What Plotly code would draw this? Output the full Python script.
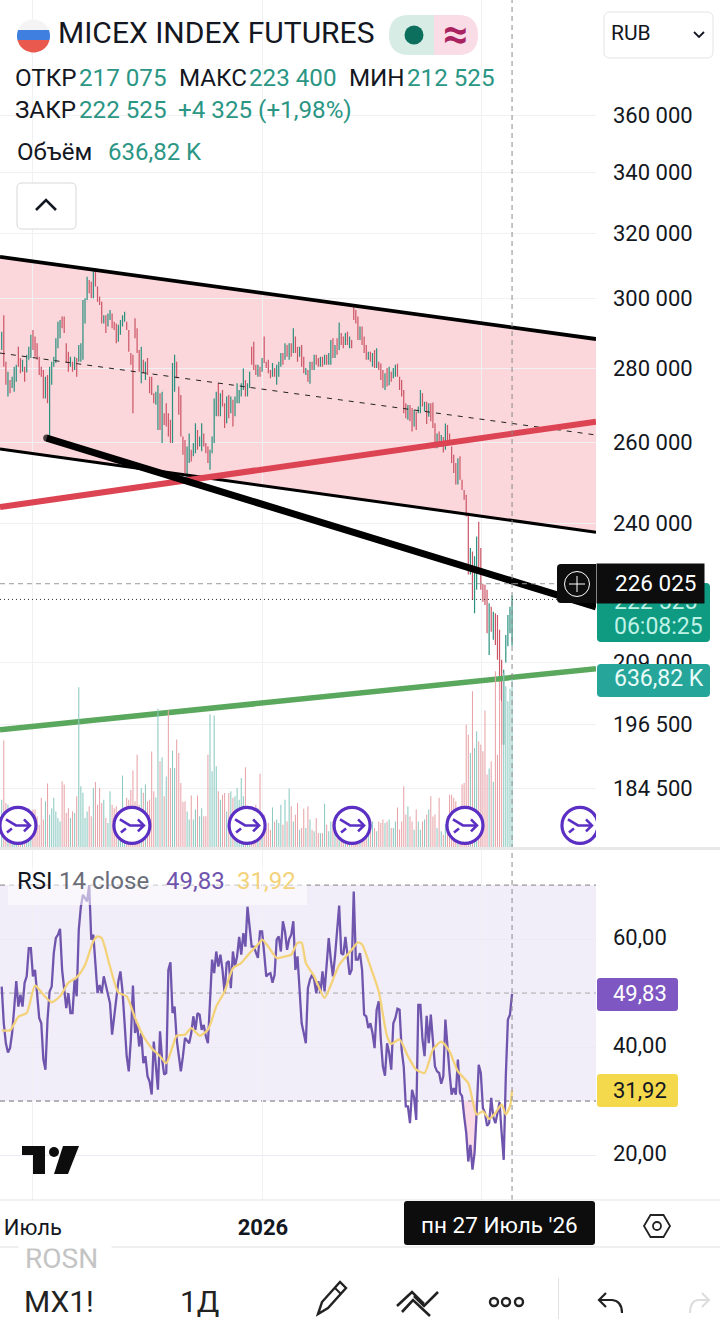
import math
import plotly.graph_objects as go

W, H = 720, 1319

# ---------- price data, thousands of roubles per bar ----------
high_k = [
290.3,295.1,281.8,279.0,276.7,277.6,280.4,280.9,286.0,282.8,
282.3,280.4,283.7,286.0,289.4,290.8,288.9,287.0,283.2,280.4,
279.5,277.6,278.1,280.4,281.8,283.2,288.4,293.2,293.7,294.7,
294.7,287.0,284.6,283.2,281.8,283.2,282.8,286.5,287.0,299.6,
300.1,306.6,305.6,305.1,309.1,309.1,303.6,300.6,299.1,295.1,
295.1,295.6,296.6,295.6,293.2,292.7,292.3,293.7,295.1,296.1,
293.2,290.8,284.2,283.7,294.2,291.3,285.1,286.0,282.3,281.8,
282.8,277.6,277.6,273.1,273.5,275.3,273.1,273.5,267.7,270.4,
267.7,266.0,281.4,283.7,281.8,274.9,272.6,261.6,260.7,259.0,
262.4,258.2,259.9,265.1,263.3,261.6,265.1,262.4,259.9,259.0,
258.2,261.6,271.7,273.5,275.8,273.1,274.0,270.4,272.2,272.6,
272.2,271.3,272.2,275.8,274.0,275.8,279.9,276.7,275.8,279.0,
286.0,287.4,280.9,280.9,280.4,282.8,288.9,281.8,282.3,279.5,
281.4,280.0,280.9,281.8,284.2,284.2,287.0,286.5,287.0,287.0,
291.3,288.9,286.0,286.0,286.5,283.2,280.0,279.5,281.8,281.8,
283.7,283.7,282.8,283.2,283.2,283.7,283.7,284.2,287.9,288.4,
286.5,288.4,293.0,289.9,288.9,289.9,290.3,288.9,287.9,298.1,
296.6,294.7,291.8,291.8,288.9,286.5,284.6,284.6,284.2,285.1,
285.6,281.8,281.3,279.5,278.6,280.0,280.4,279.0,280.0,280.9,
281.2,277.6,276.7,274.0,270.4,269.9,269.9,269.1,268.6,268.2,
269.5,274.0,273.1,270.8,270.8,270.4,270.4,270.6,265.1,262.4,
262.9,262.0,261.5,265.0,264.6,262.4,259.0,256.9,254.8,256.0,
256.5,250.6,248.1,246.9,242.5,234.2,233.4,232.3,236.9,240.4,
234.2,226.0,225.8,224.7,221.7,220.9,219.8,219.5,219.1,215.9,
209.6,207.5,214.8,219.1,220.9,223.4,
]
low_k = [
285.1,280.4,275.4,272.2,273.1,274.5,273.5,276.2,280.4,278.6,
279.0,276.2,278.8,282.3,282.8,285.1,283.2,282.3,278.1,277.6,
271.7,271.7,270.4,261.6,275.4,280.4,281.4,285.6,288.4,291.3,
289.9,281.4,279.0,280.4,279.0,279.5,277.6,281.8,281.8,282.3,
292.7,299.6,301.6,300.1,300.1,303.6,299.1,298.1,292.7,292.7,
289.9,291.8,293.7,291.3,290.8,287.0,287.4,289.4,291.8,293.2,
290.8,284.6,280.9,267.7,288.4,284.2,279.0,275.8,278.6,276.7,
278.1,273.1,272.6,270.4,270.0,263.3,263.3,259.9,264.6,264.2,
261.6,259.9,259.9,273.5,277.2,267.3,261.6,256.9,252.3,251.0,
254.8,255.2,256.5,257.3,258.2,259.0,257.8,259.0,257.3,254.8,
253.1,257.3,259.9,266.9,266.9,266.9,269.5,263.8,265.1,266.4,
267.7,264.2,266.9,270.4,270.4,272.2,274.0,272.2,272.2,274.5,
280.9,279.5,278.1,277.6,277.6,279.0,281.4,280.0,278.6,277.2,
277.6,277.6,275.4,277.6,280.4,280.9,282.3,283.2,282.3,283.2,
284.2,284.2,281.8,283.2,280.4,278.6,278.1,276.2,275.7,279.5,
279.5,280.9,280.4,280.4,280.4,280.9,280.9,280.9,280.9,282.8,
282.8,283.7,285.1,286.5,285.6,286.5,286.5,285.6,285.6,293.7,
292.7,287.9,287.9,286.5,284.2,282.3,282.3,281.8,280.4,280.0,
280.0,279.5,276.7,274.5,274.0,274.9,275.3,276.2,277.2,277.6,
277.6,274.0,272.2,267.7,266.4,266.0,265.6,262.9,264.2,263.3,
267.7,267.7,269.5,268.2,264.9,266.8,265.6,263.8,258.6,258.6,
259.0,259.0,257.5,258.2,259.9,259.4,254.8,252.3,249.4,249.4,
250.6,248.1,245.7,241.6,228.1,228.1,222.4,219.5,224.7,228.8,
224.7,222.0,221.3,215.2,210.6,215.5,213.8,212.7,209.6,201.4,
192.6,192.6,209.0,212.4,215.2,212.525,
]
close_k = [
289,281.5,276,278,275,277,279.5,281.5,281,279.5,
280,277,282,285,288,286,284,283,279,278,
272,274,271,279,280,282,287,292,293,291,
290,282,280,282,280,282,279,285,286,298,
299,305,304,301.5,308,306,300,299,293.5,294,
291,294,295,292,291.5,288,291,293,294.5,295.5,
292,285,281.5,268,289,285,280,284,279.5,281,
279,274,273,271,272,274,272,274,265,265,
262,260.5,281,282.5,279,268,262,257.5,253,258,
259,256,258,264,260,261,264,260,258,255.5,
257,261,271,272,268,272,271,265,271,268,
271,266,271,271,273,275,279,274,275,278,
281.5,280,279,280,278,282,282,281,279,278,
281,278,280,281,284,283,286.5,284,286,284,
290.5,288,283,285,282,279,279.5,277,281,280,
283,282,281,282.5,281.5,283,282,283.5,287,284,
286,285,292,288,287,289,287,288,287,294,
293,289,291,287,285,283,283.5,282,283,281,
285,280,277,275,278,276,280,277,279.5,280.5,
278,275,273,268.5,267,269,266,264,267,265,
269,273,270,270.5,266,270,267,265,259,261,
259.5,261,258,264,261,260,255.5,253,250,255,
251,248.5,246,242,229,233,224,231,236,232,
226,223,222,216,220,216,218,214,210.5,202.5,
194,206,214,217,218.2,222.525,
]
# bars whose open gapped away from the prior close
gap_open_k = {63: 283, 64: 293, 120: 285.5, 121: 286.5, 126: 288, 169: 297.5, 245: 217.075}

vol_k = [
182,405,170,163,125,138,113,125,88,75,
113,100,125,150,88,145,145,120,88,189,
107,176,243,125,150,189,138,113,100,252,
239,132,150,113,138,132,195,606,233,208,
113,138,157,120,226,249,163,226,170,182,
113,94,214,163,150,157,63,38,273,138,
189,182,219,292,176,352,163,226,208,239,
176,182,364,214,190,525,327,342,195,270,
519,302,367,302,409,358,245,174,176,138,
107,198,107,145,198,120,150,120,120,352,
503,289,500,308,214,182,201,207,138,207,
214,189,195,226,182,264,195,304,138,113,
113,100,163,150,280,113,125,75,94,69,
153,100,107,94,163,88,182,100,224,157,
100,125,170,69,75,148,75,157,107,69,
63,113,57,56,56,167,88,63,100,100,
100,100,100,100,100,88,75,63,100,94,
100,100,88,75,63,100,94,88,100,75,
63,100,94,107,94,100,107,75,75,100,
153,70,100,233,126,157,119,100,69,145,
100,69,100,107,126,145,195,119,126,75,
189,63,50,90,120,201,201,189,176,150,
130,239,245,465,427,358,591,377,440,402,
390,365,518,277,300,327,250,666,352,628,
553,660,610,553,600,636.82,
]

rsi = [
51.2,44.4,40.7,39,39.8,42.6,47.2,52.2,47.5,49.7,
47.5,51.9,53.1,58.3,58.3,53.1,54.3,50,45.4,44.4,
37.7,35.8,45.1,50.3,51.2,57.4,60.2,60.8,61.9,54.3,
50.6,47.2,50,46.3,46.3,52.5,49.4,61.7,66,68.2,
67.6,67,70,59.9,60.8,56.2,50,51.5,50,53.1,
51.5,50,48.1,42.3,45.7,48.8,52.2,54,50.3,44.4,
38.3,35.5,41.4,51.4,42.6,44.4,40.1,42.6,37,38.3,
34.6,33.6,31.2,41,36,32.1,42.9,37.7,34.9,35.2,
54.3,55.7,46.3,47.5,41.4,38,35.5,38.3,41.7,41.2,
40.7,42.6,45.7,43.2,46.3,46,43.2,44.1,42,40.7,
50,56.2,53.7,57.7,54.9,57.1,54.3,50,55.6,55.9,
50.9,57.7,54.9,56.8,60.4,57.1,61.1,58.6,66,62,
58.6,58.6,57.5,56.5,61.4,61.4,57.4,53.1,53.5,53.7,
51.9,53.4,59.9,60.5,57.7,63.3,61.4,58,60,60.8,
63.3,54.3,56.8,50.6,44.4,42.6,40.7,50.9,52.5,53.4,
52.5,50,52.2,50,54,50.3,54.9,60.2,56.2,53.1,
56.8,62.3,66.2,57.4,57.1,60.4,57.4,53.4,54.3,68.8,
56.2,56.2,57.4,54.3,46,45.7,43.5,44.4,42.6,39.8,
46.9,48.5,41.4,36.4,34.7,40.7,38.9,35.8,44.4,45.4,
47.1,46.9,39.5,36.4,29,29,25.9,32.1,30.6,26.5,
47.8,47.8,41.4,38.3,45.8,40.7,46,41.4,36.4,35.5,
35.2,33.2,34.6,45.1,39.5,35.2,31.2,32.4,31.2,37.7,
31.5,30.9,27.2,24.1,18.8,21.9,17.3,20.4,27.8,36.7,
35.2,28.7,27.8,25.4,25.9,30.6,27,25.9,27.8,29.8,
24.1,19.1,34.6,45.1,46,49.83,
]
rsi_ma_idx = [0,4,8,12,16,20,24,28,32,36,40,44,46,48,52,56,60,64,68,72,76,79,82,84,88,91,95,99,103,107,
              111,115,119,123,125,128,132,136,139,142,144,146,150,155,158,162,166,168,171,173,177,181,
              185,187,191,195,199,203,207,211,215,219,224,228,231,234,237,240,242,244,245]
rsi_ma = [43.1,43.1,45.6,46.3,51.4,49.7,48.3,49.4,51.9,52.9,55.2,59.6,60.5,60.2,54.9,50.1,49.4,45.4,42,39.8,38.3,37,40.1,42.1,42.3,43.5,42.1,43.2,47.5,50.3,
          54.6,55.6,57.4,59,59.9,58.6,56.5,56.8,57.1,59.3,59.3,55.6,53.1,49.1,51.5,55.2,57.1,58,59.4,59,54.9,50.3,
          42,40.6,41.4,38.3,35.8,35.2,39.5,41,39.2,35.5,33.3,27.5,28.1,26.7,27.8,29.4,27.5,29,31.92]

# ---------- drawings on the chart (index, thousands) ----------
channel_idx = [-0.82, 285.3]
channel_top_k = [312.7, 288.2]
channel_mid_k = [284.2, 262.0]
channel_bot_k = [258.4, 237.9]
black_idx = [21.6, 285.3]
black_k = [261.2, 220.9]
red_k = [243.9, 265.5]
green_k = [195.5, 207.7]
last_close_k = 222.525
cross_k = 226.025
cross_idx = 245
marker_idx = [7.8, 62.5, 117.8, 168.2, 222.4, 277.6]

price_ticks = [360, 340, 320, 300, 280, 260, 240, 209, 196.5, 184.5]
price_labels = ["360 000", "340 000", "320 000", "300 000", "280 000", "260 000", "240 000", "209 000", "196 500", "184 500"]
rsi_ticks = [60, 40, 20]
rsi_labels = ["60,00", "40,00", "20,00"]
time_ticks = [15, 125.4, 230.3]
time_labels = ["Июль", "<b>2026</b>", " "]

FONT = "Roboto"
INK = "#131722"
GREEN = "#2b9684"
PURPLE = "#6f55ad"
YELLOW = "#f3d27a"

idx = list(range(len(close_k)))
open_k = [close_k[0]] + close_k[:-1]
for k, v in gap_open_k.items():
    open_k[k] = v

def stems(keep):
    xs, ys = [], []
    for i in idx:
        if keep(open_k[i], close_k[i]):
            xs += [i, i, None]
            ys += [0, vol_k[i], None]
    return xs, ys

fig = go.Figure()
# volume stems, one colour per direction of the bar
for keep, col in ((lambda o, c: c >= o, "#8bc9c1"), (lambda o, c: c < o, "#e8a4a9")):
    vx, vy = stems(keep)
    fig.add_trace(go.Scatter(x=vx, y=vy, mode="lines", line=dict(color=col, width=1.05, simplify=False), xaxis="x", yaxis="y2"))
# channel mid line
fig.add_trace(go.Scatter(x=channel_idx, y=channel_mid_k, mode="lines", line=dict(color="#222", width=1, dash="5px,6px"), xaxis="x", yaxis="y"))
# price bars
fig.add_trace(go.Ohlc(x=idx, open=open_k, high=high_k, low=low_k, close=close_k, tickwidth=0.05,
                      increasing=dict(line=dict(color="#2a917f", width=1.2)),
                      decreasing=dict(line=dict(color="#cc5566", width=1.2)), xaxis="x", yaxis="y"))
fig.add_trace(go.Scatter(x=channel_idx, y=channel_top_k, mode="lines", line=dict(color="#000", width=3.8), xaxis="x", yaxis="y"))
fig.add_trace(go.Scatter(x=channel_idx, y=channel_bot_k, mode="lines", line=dict(color="#000", width=3), xaxis="x", yaxis="y"))
fig.add_trace(go.Scatter(x=channel_idx, y=red_k, mode="lines", line=dict(color="#dc4453", width=6), xaxis="x", yaxis="y"))
fig.add_trace(go.Scatter(x=channel_idx, y=green_k, mode="lines", line=dict(color="#5aa85e", width=5.5), xaxis="x", yaxis="y"))
fig.add_trace(go.Scatter(x=black_idx, y=black_k, mode="lines+markers", line=dict(color="#000", width=7),
                         marker=dict(color="#000", size=[7, 0], line=dict(width=0)), xaxis="x", yaxis="y"))
fig.add_trace(go.Scatter(x=channel_idx, y=[last_close_k] * 2, mode="lines", line=dict(color="#333", width=1, dash="1px,3px"), xaxis="x", yaxis="y"))
fig.add_trace(go.Scatter(x=channel_idx, y=[cross_k] * 2, mode="lines", line=dict(color="#999", width=1, dash="5px,4px"), xaxis="x", yaxis="y"))
# expiry markers
fig.add_trace(go.Scatter(x=marker_idx, y=[85] * len(marker_idx), mode="markers",
                         marker=dict(size=36, color="#ffffff", line=dict(color="#5b2fc4", width=3.2)), xaxis="x", yaxis="y2"))
# RSI
dip = [i for i in idx if 221 <= i <= 228]
fig.add_trace(go.Scatter(x=dip + dip[::-1], y=[min(rsi[i], 30) for i in dip] + [30] * len(dip), mode="lines", fill="toself",
                         fillcolor="rgba(240,150,185,0.35)", line=dict(width=0), xaxis="x2", yaxis="y3"))
fig.add_trace(go.Scatter(x=idx, y=rsi, mode="lines", line=dict(color=PURPLE, width=2.3), xaxis="x2", yaxis="y3"))
fig.add_trace(go.Scatter(x=rsi_ma_idx, y=rsi_ma, mode="lines", line=dict(color=YELLOW, width=2.3, shape="spline", smoothing=0.6), xaxis="x2", yaxis="y3"))


def fx(x): return x / W
def fy(y): return 1 - y / H
def P(pts, close=False):
    s = "M " + " L ".join(f"{fx(x):.5f},{fy(y):.5f}" for x, y in pts)
    return s + (" Z" if close else "")
def rr(x0, y0, x1, y1, r):
    c = lambda x, y: f"{fx(x):.5f},{fy(y):.5f}"
    return (f"M {c(x0+r,y0)} L {c(x1-r,y0)} Q {c(x1,y0)} {c(x1,y0+r)} L {c(x1,y1-r)} Q {c(x1,y1)} {c(x1-r,y1)} "
            f"L {c(x0+r,y1)} Q {c(x0,y1)} {c(x0,y1-r)} L {c(x0,y0+r)} Q {c(x0,y0)} {c(x0+r,y0)} Z")
shapes = []
# channel fill below the bars
shapes.append(dict(type="path", xref="x", yref="y", layer="below",
                   path=(f"M {channel_idx[0]},{channel_top_k[0]} L {channel_idx[1]},{channel_top_k[1]} "
                         f"L {channel_idx[1]},{channel_bot_k[1]} L {channel_idx[0]},{channel_bot_k[0]} Z"),
                   fillcolor="#fbd6da", line=dict(width=0)))
def shp(path, fill=None, line=None, lw=0, layer="above"):
    shapes.append(dict(type="path", path=path, xref="paper", yref="paper", layer=layer,
                       fillcolor=fill if fill else "rgba(0,0,0,0)",
                       line=dict(color=line if line else "rgba(0,0,0,0)", width=lw)))
def box(x0, y0, x1, y1, fill, layer="above"):
    shapes.append(dict(type="rect", xref="paper", yref="paper", x0=fx(x0), x1=fx(x1), y0=fy(y1), y1=fy(y0),
                       fillcolor=fill, line=dict(width=0), layer=layer))
def disc(cx, cy, r, fill=None, line=None, lw=0):
    shapes.append(dict(type="circle", xref="paper", yref="paper", x0=fx(cx - r), x1=fx(cx + r), y0=fy(cy + r), y1=fy(cy - r),
                       fillcolor=fill if fill else "rgba(0,0,0,0)",
                       line=dict(color=line if line else "rgba(0,0,0,0)", width=lw), layer="above"))
def band(cx, cy, r, y0, y1):
    pts = []
    for k in range(13):
        y = y0 + (y1 - y0) * k / 12
        pts.append((cx + math.sqrt(max(r*r - (y-cy)**2, 0)), y))
    for k in range(12, -1, -1):
        y = y0 + (y1 - y0) * k / 12
        pts.append((cx - math.sqrt(max(r*r - (y-cy)**2, 0)), y))
    return P(pts, True)

# RSI band and levels
shapes.append(dict(type="rect", xref="x2 domain", yref="y3", x0=0, x1=1, y0=30, y1=70, fillcolor="rgba(126,87,194,0.1)", line=dict(width=0), layer="below"))
for lvl, col in [(70, "#808080"), (50, "#a8a8a8"), (30, "#707070")]:
    shapes.append(dict(type="line", xref="x2 domain", yref="y3", x0=0, x1=1, y0=lvl, y1=lvl, line=dict(color=col, width=1, dash="5px,4px"), layer="below"))
# crosshair
shapes.append(dict(type="line", xref="x", yref="paper", x0=cross_idx, x1=cross_idx, y0=fy(1200), y1=1, line=dict(color="#8a8a8a", width=1, dash="5px,4px"), layer="above"))

# expiry marker arrows
for m in marker_idx:
    for seg in ([(-12, 6), (-2, 0), (12, 0)], [(6, 6), (12, 0), (6, -6)], [(-11, -7), (-6, -3)]):
        shapes.append(dict(type="path", xref="x", yref="y2", xsizemode="pixel", ysizemode="pixel", xanchor=m, yanchor=85,
                           path="M " + " L ".join(f"{a},{b}" for a, b in seg),
                           line=dict(color="#5b2fc4", width=2.6), fillcolor="rgba(0,0,0,0)", layer="above"))
box(596, 800, 720, 847, "#ffffff")

# separators
box(0, 847, 720, 850, "#e8e8e8")
box(0, 1199.5, 720, 1200.5, "#e4e4e4")
box(0, 1246, 720, 1248, "#f0f0f0")
box(558, 1278, 559, 1319, "#e2e2e2")

# flag
disc(33.5, 36, 16.5, "#f4f4f4")
shp(band(33.5, 36, 16.5, 30, 40), "#3f7fe0")
shp(band(33.5, 36, 16.5, 40, 52.4), "#e9594d")
# status pill
shp(f"M {fx(434)},{fy(15)} L {fx(409)},{fy(15)} Q {fx(389)},{fy(15)} {fx(389)},{fy(35)} Q {fx(389)},{fy(55)} {fx(409)},{fy(55)} L {fx(434)},{fy(55)} Z", "#d8ece6")
shp(f"M {fx(434)},{fy(15)} L {fx(458)},{fy(15)} Q {fx(478)},{fy(15)} {fx(478)},{fy(35)} Q {fx(478)},{fy(55)} {fx(458)},{fy(55)} L {fx(434)},{fy(55)} Z", "#fadce7")
disc(414, 35, 9.5, "#0c6e5c")
# chevron button
shp(rr(17, 183, 76, 229, 5), "#ffffff", "#d8d8d8", 1)
shp(P([(36, 210), (46, 200), (56, 210)]), None, "#131722", 2.6)
# legend backdrop in RSI pane
box(8, 868, 307, 905, "rgba(255,255,255,0.55)")
# RUB selector
shp(rr(604, 12, 713, 58, 6), "#ffffff", "#e4e4e4", 1)
shp(P([(694, 32), (699, 37), (704, 32)]), None, "#131722", 1.8)
# price tags
shp(rr(597, 583, 710, 642, 4), "#0f9a82")
shp(rr(597, 664, 710, 697, 4), "#26a69a")
shp(rr(597, 978, 678, 1011, 3), "#7e57c2")
shp(rr(597, 1074, 678, 1107, 3), "#f5d94c")
shp(rr(557, 564, 600, 603, 4), "#0d0d0d")
box(596, 564, 597, 603, "#ffffff")
disc(577, 584, 12.5, None, "#ffffff", 1)
shp(P([(577, 576), (577, 592)]), None, "#ffffff", 1)
shp(P([(569, 584), (585, 584)]), None, "#ffffff", 1)
# date tag
shp(rr(404, 1201, 595, 1245, 3), "#0d0d0d")
# gear
shp(P([(644, 1226), (650.5, 1215), (663.5, 1215), (670, 1226), (663.5, 1237), (650.5, 1237)], True), None, "#222", 1.8)
disc(657, 1226, 4, None, "#222", 1.8)
# TradingView logo
shp(P([(22, 1146), (45, 1146), (45, 1174), (33, 1174), (33, 1155), (22, 1155)], True), "#0d0d0d")
disc(54, 1152, 5, "#0d0d0d")
shp(P([(63, 1146), (79, 1146), (68, 1174), (54, 1174)], True), "#0d0d0d")
# toolbar icons
shp(P([(318, 1314), (322, 1302), (340, 1282), (346, 1288), (328, 1308)], True), None, "#222", 2.4)
shp(P([(335, 1288), (341, 1294)]), None, "#222", 2)
shp(P([(397, 1306), (412, 1292), (424, 1304)]), None, "#222", 2.6)
shp(P([(402, 1312), (413, 1300), (430, 1316)]), None, "#222", 2.6)
shp(P([(414, 1296), (424, 1306), (438, 1292)]), None, "#222", 2.6)
disc(494, 1302, 4, None, "#222", 2.4)
disc(506, 1302, 4, None, "#222", 2.4)
disc(519, 1302, 4, None, "#222", 2.4)
shp(P([(606, 1293), (599, 1300), (606, 1307)]), None, "#222", 2.2)
shp(f"M {fx(599)},{fy(1300)} L {fx(612)},{fy(1300)} Q {fx(622)},{fy(1301)} {fx(622)},{fy(1313)}", None, "#222", 2.2)
shp(P([(702, 1293), (709, 1300), (702, 1307)]), None, "#dddddd", 2)
shp(f"M {fx(709)},{fy(1300)} L {fx(698)},{fy(1300)} Q {fx(690)},{fy(1301)} {fx(690)},{fy(1313)}", None, "#dddddd", 2)

ann = []
def T(x, y, text, size, color=INK, anchor="left", **kw):
    ann.append(dict(x=fx(x), y=fy(y), xref="paper", yref="paper", text=text, showarrow=False, xanchor=anchor, yanchor="middle",
                    font=dict(family=FONT, size=size, color=color), borderpad=0, **kw))

T(57, 33, "MICEX INDEX FUTURES", 30)
T(455, 34, "<b>≈</b>", 44, "#a8235f", "center")
T(14, 78, "ОТКР", 24.2); T(78, 78, "217 075", 24.2, GREEN)
T(178, 78, "МАКС", 24.2); T(248, 78, "223 400", 24.2, GREEN)
T(348, 78, "МИН", 24.2); T(406, 78, "212 525", 24.2, GREEN)
T(14, 110, "ЗАКР", 24.2); T(78, 110, "222 525", 24.2, GREEN); T(177, 110, "+4 325 (+1,98%)", 24.2, GREEN)
T(16, 152, "Объём", 24); T(107, 152, "636,82 K", 24, GREEN)
T(610, 33, "RUB", 21)
T(16, 881, "RSI", 24); T(58, 881, "14 close", 24, "#6a6d78"); T(165, 881, "49,83", 24, PURPLE); T(236, 881, "31,92", 24, YELLOW)
T(613, 601, "222 525", 23, "#bff2e5")
T(613, 626, "06:08:25", 23, "#bff2e5")
T(613, 678, "636,82 K", 23, "#e8fbf8")
T(612, 993, "49,83", 22, "#ffffff")
T(612, 1090, "31,92", 22, "#131722")
T(650.5, 583.5, " ", 10, "#0d0d0d", "center", bgcolor="#0d0d0d", width=107, height=39)
T(655, 583.5, "226 025", 22.5, "#ffffff", "center")
T(499, 1225, "пн 27 Июль '26", 22.5, "#ffffff", "center")
T(24, 1258, "ROSN", 28, "#c4c4c4")
T(65, 1242, " ", 10, "#ffffff", "center", bgcolor="#ffffff", width=92, height=12)
T(23, 1301, "MX1!", 30, "#222222")
T(179, 1301, "1Д", 30, "#222222")

GRID = "#f1f1f3"
fig.update_layout(
    width=W, height=H, margin=dict(l=0, r=0, t=0, b=0), autosize=False, showlegend=False,
    paper_bgcolor="#ffffff", plot_bgcolor="rgba(0,0,0,0)", font=dict(family=FONT, color=INK), shapes=shapes, annotations=ann,
    hovermode=False,
    xaxis=dict(domain=[0, 596 / W], range=[-0.816, 285.3], anchor="y", showticklabels=False, tickmode="array", tickvals=time_ticks,
               showgrid=True, gridcolor=GRID, zeroline=False, showline=False, ticks="", rangeslider=dict(visible=False)),
    xaxis2=dict(domain=[0, 596 / W], range=[-0.816, 285.3], anchor="y3", matches="x", tickmode="array", tickvals=time_ticks, ticktext=time_labels,
                tickfont=dict(size=22, color=INK), showgrid=True, gridcolor=GRID, zeroline=False, showline=False, ticks="", ticklabelstandoff=12),
    yaxis=dict(domain=[1 - 848 / H, 1], type="log", range=[math.log10(173.85), math.log10(403.56)], side="right", anchor="x", tickmode="array",
               tickvals=price_ticks, ticktext=price_labels, tickfont=dict(size=22, color=INK), showgrid=True, gridcolor=GRID,
               zeroline=False, showline=False, ticks="", ticklabelstandoff=16),
    yaxis2=dict(overlaying="y", range=[0, 3197], side="right", anchor="x", visible=False, showgrid=False),
    yaxis3=dict(domain=[1 - 1200 / H, 1 - 850 / H], range=[11.67, 76.5], side="right", anchor="x2", tickmode="array", tickvals=rsi_ticks,
                ticktext=rsi_labels, tickfont=dict(size=22, color=INK), showgrid=True, gridcolor="#eceaf2", zeroline=False, showline=False,
                ticks="", ticklabelstandoff=16, ticklabelshift=-2),
)

fig.write_html("out.html", config={"displayModeBar": False}, post_script="document.body.style.margin='0';document.body.style.overflow='hidden';")
